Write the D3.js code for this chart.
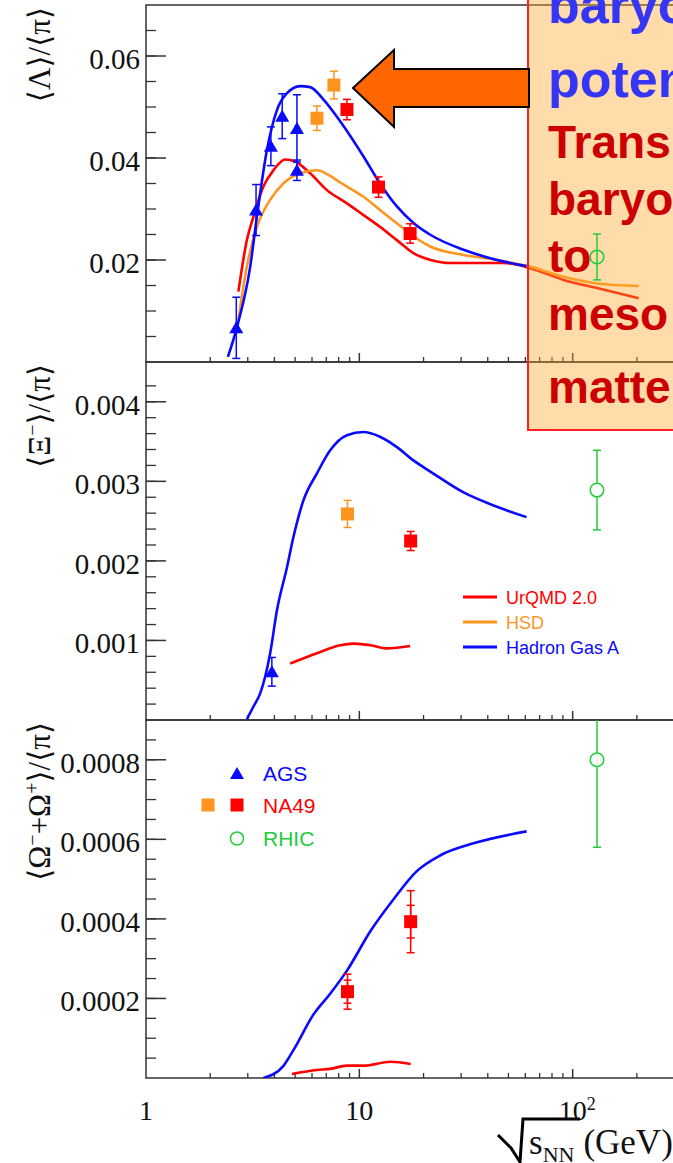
<!DOCTYPE html>
<html>
<head>
<meta charset="utf-8">
<script src="https://cdn.jsdelivr.net/npm/d3@7"></script>
<style>
body { margin: 0; background: #fff; }
svg { display: block; }
</style>
</head>
<body>
<svg id="chart" width="673" height="1163"></svg>
<script>
// ---- data (sqrt(s_NN) in GeV, ratio) ----

// Lambda / pi
const lamGas = [[2.42,0.001],[2.66,0.0066],[3.08,0.0187],[3.31,0.0285],[3.69,0.0416],[4.11,0.0494],[4.58,0.0527],[5.28,0.0541],[5.88,0.0539],[6.81,0.0514],[8.13,0.0472],[10.46,0.0403],[12.5,0.035],[15.0,0.0305],[18.0,0.0272],[21.6,0.0249],[30.8,0.022],[44.2,0.02],[60.8,0.0188]];
const lamUrqmd = [[2.71,0.0138],[2.97,0.0239],[3.19,0.0285],[3.55,0.0344],[3.96,0.0376],[4.49,0.0397],[5.0,0.0393],[5.88,0.037],[7.05,0.0337],[8.75,0.0311],[10.46,0.0288],[12.5,0.0265],[15.0,0.0239],[18.0,0.0213],[21.6,0.02],[26.7,0.0194],[36.8,0.0194],[47.6,0.0194],[63.1,0.0184],[90.6,0.0161],[130,0.0145],[204,0.0125]];
const lamHsd = [[2.71,0.0082],[2.97,0.0187],[3.31,0.0265],[3.82,0.0318],[4.4,0.035],[5.28,0.037],[6.33,0.0376],[7.3,0.0365],[8.13,0.0352],[8.75,0.0344],[10.46,0.0324],[12.5,0.0298],[15,0.0272],[18,0.0246],[21.6,0.0226],[30.8,0.021],[44.2,0.02],[63.1,0.0187],[90.6,0.0167],[130,0.0154],[204,0.0149]];

const agsLamE = [2.65, 3.28, 3.85, 4.35, 5.1, 5.1];
const agsLam = [0.0067, 0.0298, 0.0423, 0.0482, 0.0458, 0.0376];
const agsLamErr = [0.006, 0.005, 0.0038, 0.0044, 0.0066, 0.002];
const na49oLamE = [6.33, 7.6];
const na49oLam = [0.0478, 0.0543];
const na49oLamErr = [0.0024, 0.0027];
const na49rLamE = [8.75, 12.3, 17.3];
const na49rLam = [0.0495, 0.0343, 0.0252];
const na49rLamErr = [0.002, 0.002, 0.0019];
const rhicLamE = [130];
const rhicLam = [0.0206];
const rhicLamErr = [0.0045];

// Xi / pi
const xiGas = [[2.97,0.00001],[3.19,0.00017],[3.43,0.000335],[3.82,0.00084],[4.11,0.00138],[4.58,0.00192],[4.91,0.0023],[5.47,0.00276],[6.33,0.0031],[7.3,0.00339],[8.75,0.00358],[10.46,0.00362],[12.5,0.00356],[15,0.00343],[18,0.00326],[21.6,0.00312],[30.8,0.00286],[44.2,0.00268],[60.8,0.00255]];
const xiUrqmd = [[4.74,0.00071],[6.33,0.00084],[8.13,0.00094],[9.4,0.00096],[11.3,0.00094],[13.5,0.0009],[17.3,0.00093]];

const agsXiE = [3.89];
const agsXi = [0.000606];
const agsXiErr = [0.00018];
const na49oXiE = [8.8];
const na49oXi = [0.00259];
const na49oXiErr = [0.00017];
const na49rXiE = [17.4];
const na49rXi = [0.00225];
const na49rXiErr = [0.00012];
const rhicXiE = [130];
const rhicXi = [0.00289];
const rhicXiErr = [0.0005];

// Omega / pi
const omGas = [[3.55,0.0],[4.4,0.00003],[4.91,0.00007],[6.1,0.00016],[7.3,0.000212],[8.75,0.00027],[11.3,0.00037],[14.5,0.00045],[18.6,0.00052],[24,0.00056],[34.3,0.00059],[60.8,0.00062]];
const omUrqmd = [[4.83,0.00001],[6.33,0.00002],[7.3,0.000023],[8.75,0.000031],[10.46,0.000031],[14,0.000041],[17.4,0.000035]];

const na49rOmE = [8.8, 17.4];
const na49rOm = [0.000217, 0.000393];
const na49rOmErr = [0.000029, 0.000041];
const na49rOmSys = [0.000044, 0.000078];
const rhicOmE = [130];
const rhicOm = [0.0008];
const rhicOmErr = [0.00022];

// axes
const xMajor = [1, 10, 100];
const xLabels = ["1", "10", "10"];
const yMajor1 = [0.02, 0.04, 0.06];
const yMajor2 = [0.001, 0.002, 0.003, 0.004];
const yMajor3 = [0.0002, 0.0004, 0.0006, 0.0008];

const legendModels = ["UrQMD 2.0", "HSD", "Hadron Gas A"];
const legendData = ["AGS", "NA49", "RHIC"];
const boxLines = ["baryo", "poten", "Trans", "baryo", "to", "meso", "matte"];

// ---- drawing ----
const BLUE = "#0a0aff", RED = "#ff0000", ORANGE = "#ff951f", GREEN = "#22cc3a";
const SERIF = "'Liberation Serif', 'DejaVu Serif', serif";
const SANS = "'Liberation Sans', Arial, sans-serif";

const svg = d3.select("#chart");
const x = d3.scaleLog().domain([1, 1000]).range([146, 786]);
const left = 146, right = 786;

const panels = [
  {top: 5, bottom: 362, max: 0.07, major: yMajor1, step: 0.005},
  {top: 362, bottom: 720, max: 0.0045, major: yMajor2, step: 0.0002},
  {top: 720, bottom: 1078, max: 0.0009, major: yMajor3, step: 0.00005}
];
panels.forEach((p, i) => {
  p.y = d3.scaleLinear().domain([0, p.max]).range([p.bottom, p.top]);
  p.id = "clip" + i;
  svg.append("clipPath").attr("id", p.id)
    .append("rect").attr("x", left).attr("y", p.top)
    .attr("width", right - left).attr("height", p.bottom - p.top);
});

const xMinor = [];
[1, 10, 100].forEach(d => { for (let k = 2; k < 10; k++) xMinor.push(d * k); });

function drawFrame(p) {
  const g = svg.append("g");
  g.append("rect").attr("x", left).attr("y", p.top)
    .attr("width", right - left).attr("height", p.bottom - p.top)
    .attr("fill", "none").attr("stroke", "#333").attr("stroke-width", 1.5);
  const minor = d3.range(p.step, p.max - p.step / 2, p.step);
  g.selectAll(".ym").data(minor).join("line")
    .attr("x1", left).attr("x2", left + 10)
    .attr("y1", d => p.y(d)).attr("y2", d => p.y(d))
    .attr("stroke", "#333").attr("stroke-width", 1.3);
  g.selectAll(".yM").data(p.major).join("line")
    .attr("x1", left).attr("x2", left + 20)
    .attr("y1", d => p.y(d)).attr("y2", d => p.y(d))
    .attr("stroke", "#333").attr("stroke-width", 1.5);
  g.selectAll(".yl").data(p.major).join("text")
    .attr("x", 140).attr("y", d => p.y(d) + 13)
    .attr("text-anchor", "end")
    .style("font-family", SERIF).style("font-size", "29px").attr("fill", "#111")
    .text(d => String(d));
  g.selectAll(".xm").data(xMinor).join("line")
    .attr("x1", d => x(d)).attr("x2", d => x(d))
    .attr("y1", p.bottom).attr("y2", p.bottom - 5)
    .attr("stroke", "#333").attr("stroke-width", 1.3);
  g.selectAll(".xM").data(xMajor.slice(1)).join("line")
    .attr("x1", d => x(d)).attr("x2", d => x(d))
    .attr("y1", p.bottom).attr("y2", p.bottom - 9)
    .attr("stroke", "#333").attr("stroke-width", 1.5);
}
panels.forEach(drawFrame);

function curve(p, data, color) {
  const line = d3.line().x(d => x(d[0])).y(d => p.y(d[1])).curve(d3.curveMonotoneX);
  svg.append("path").datum(data)
    .attr("clip-path", `url(#${p.id})`)
    .attr("d", line).attr("fill", "none")
    .attr("stroke", color).attr("stroke-width", 2.6);
}

function errBars(p, E, V, err, color) {
  const g = svg.append("g").attr("clip-path", `url(#${p.id})`)
    .attr("stroke", color).attr("stroke-width", 1.5);
  E.forEach((e, i) => {
    const cx = x(e), y1 = p.y(V[i] + err[i]), y0 = p.y(V[i] - err[i]);
    g.append("line").attr("x1", cx).attr("x2", cx).attr("y1", y1).attr("y2", y0);
    g.append("line").attr("x1", cx - 4).attr("x2", cx + 4).attr("y1", y1).attr("y2", y1);
    g.append("line").attr("x1", cx - 4).attr("x2", cx + 4).attr("y1", y0).attr("y2", y0);
  });
}

function markers(p, E, V, type, color) {
  const g = svg.append("g");
  E.forEach((e, i) => {
    const cx = x(e), cy = p.y(V[i]);
    if (type === "circle") {
      g.append("circle").attr("cx", cx).attr("cy", cy).attr("r", 6.8)
        .attr("fill", "#fff").attr("stroke", color).attr("stroke-width", 1.5);
    } else {
      const sym = type === "tri" ? d3.symbolTriangle : d3.symbolSquare;
      const size = type === "tri" ? 85 : 169;
      g.append("path").attr("d", d3.symbol().type(sym).size(size)())
        .attr("transform", `translate(${cx},${cy + (type === "tri" ? 1.5 : 0)})`)
        .attr("fill", color);
    }
  });
}

function series(p, E, V, err, type, color) {
  errBars(p, E, V, err, color);
  markers(p, E, V, type, color);
}

// panel 1
const p1 = panels[0], p2 = panels[1], p3 = panels[2];
curve(p1, lamUrqmd, RED);
curve(p1, lamHsd, ORANGE);
curve(p1, lamGas, BLUE);
series(p1, agsLamE, agsLam, agsLamErr, "tri", BLUE);
series(p1, na49oLamE, na49oLam, na49oLamErr, "sq", ORANGE);
series(p1, na49rLamE, na49rLam, na49rLamErr, "sq", RED);

// panel 2
curve(p2, xiUrqmd, RED);
curve(p2, xiGas, BLUE);
series(p2, agsXiE, agsXi, agsXiErr, "tri", BLUE);
series(p2, na49oXiE, na49oXi, na49oXiErr, "sq", ORANGE);
series(p2, na49rXiE, na49rXi, na49rXiErr, "sq", RED);
series(p2, rhicXiE, rhicXi, rhicXiErr, "circle", GREEN);

// panel 3
curve(p3, omUrqmd, RED);
curve(p3, omGas, BLUE);
errBars(p3, na49rOmE, na49rOm, na49rOmSys, RED);
series(p3, na49rOmE, na49rOm, na49rOmErr, "sq", RED);
series(p3, rhicOmE, rhicOm, rhicOmErr, "circle", GREEN);

// y titles
function yTitle(p, parts) {
  const t = svg.append("text")
    .attr("transform", `translate(50,${p.top + 2}) rotate(-90)`)
    .attr("text-anchor", "end")
    .style("font-family", SERIF).style("font-size", "31px").attr("fill", "#111");
  parts.forEach(([s, sup]) => {
    const ts = t.append("tspan").text(s);
    if (sup) ts.attr("baseline-shift", "super").style("font-size", "20px");
  });
}
yTitle(p1, [["⟨Λ⟩/⟨π⟩"]]);
yTitle(p2, [["⟨Ξ"], ["−", true], ["⟩/⟨π⟩"]]);
yTitle(p3, [["⟨Ω"], ["−", true], ["+Ω"], ["+", true], ["⟩/⟨π⟩"]]);

// x labels
const xl = svg.append("g").style("font-family", SERIF).style("font-size", "28px").attr("fill", "#111");
xMajor.forEach((d, i) => {
  const t = xl.append("text").attr("x", x(d)).attr("y", 1120)
    .attr("text-anchor", "middle").text(xLabels[i]);
  if (d === 100) {
    t.attr("text-anchor", "start").attr("x", x(d) - 14);
    t.append("tspan").attr("dy", -10).style("font-size", "18px").text("2");
  }
});

// x title with drawn root sign
svg.append("path").attr("d", "M498,1135 L511,1148 L520,1162 L523,1119 L580,1119")
  .attr("fill", "none").attr("stroke", "#000").attr("stroke-width", 3);
const xt = svg.append("text").attr("x", 529).attr("y", 1154)
  .style("font-family", SERIF).style("font-size", "35px").attr("fill", "#111");
xt.append("tspan").text("s");
xt.append("tspan").attr("dy", 8).style("font-size", "22px").text("NN");
xt.append("tspan").attr("dy", -8).attr("dx", 9).text("(GeV)");

// legend of models (panel 2)
const lg1 = svg.append("g");
const lgColors = [RED, ORANGE, BLUE];
legendModels.forEach((s, i) => {
  const yy = 597 + i * 25;
  lg1.append("line").attr("x1", 463).attr("x2", 497).attr("y1", yy).attr("y2", yy)
    .attr("stroke", lgColors[i]).attr("stroke-width", 3.2);
  lg1.append("text").attr("x", 506).attr("y", yy + 7)
    .style("font-family", SANS).style("font-size", "18px").attr("fill", lgColors[i]).text(s);
});

// legend of data (panel 3)
const lg2 = svg.append("g");
const lgTextColors = [BLUE, RED, GREEN];
legendData.forEach((s, i) => {
  const yy = 773 + i * 32.5;
  lg2.append("text").attr("x", 263).attr("y", yy + 7.5)
    .style("font-family", SANS).style("font-size", "21px").attr("fill", lgTextColors[i]).text(s);
});
lg2.append("path").attr("d", d3.symbol().type(d3.symbolTriangle).size(85)())
  .attr("transform", "translate(237,775)").attr("fill", BLUE);
lg2.append("rect").attr("x", 201.5).attr("y", 798.5).attr("width", 13).attr("height", 13).attr("fill", ORANGE);
lg2.append("rect").attr("x", 230.5).attr("y", 798.5).attr("width", 13).attr("height", 13).attr("fill", RED);
lg2.append("circle").attr("cx", 237).attr("cy", 838.5).attr("r", 6.5)
  .attr("fill", "none").attr("stroke", GREEN).attr("stroke-width", 1.5);

// annotation box
svg.append("rect").attr("x", 528).attr("y", -5).attr("width", 200).attr("height", 435)
  .attr("fill", "rgb(255,167,43)").attr("fill-opacity", 0.4)
  .attr("stroke", "#ff2020").attr("stroke-width", 2);
// RHIC Lambda point sits over the box
series(p1, rhicLamE, rhicLam, rhicLamErr, "circle", GREEN);
d3.select(svg.node().lastChild).select("circle").attr("fill", "none");

const boxBase = [23, 97, 158, 215, 272, 330, 403];
boxLines.forEach((s, i) => {
  svg.append("text").attr("x", 548).attr("y", boxBase[i])
    .style("font-family", SANS).style("font-weight", "bold")
    .style("font-size", i < 2 ? "52px" : "46px")
    .attr("fill", i < 2 ? "#3535f5" : "#cc0000").text(s);
});

// arrow pointing at the NA49 peak
svg.append("polygon")
  .attr("points", "353,88 394,50 394,69 529,69 529,107 394,107 394,127")
  .attr("fill", "#ff6600").attr("stroke", "#000").attr("stroke-width", 2)
  .attr("stroke-linejoin", "miter");
</script>
</body>
</html>
